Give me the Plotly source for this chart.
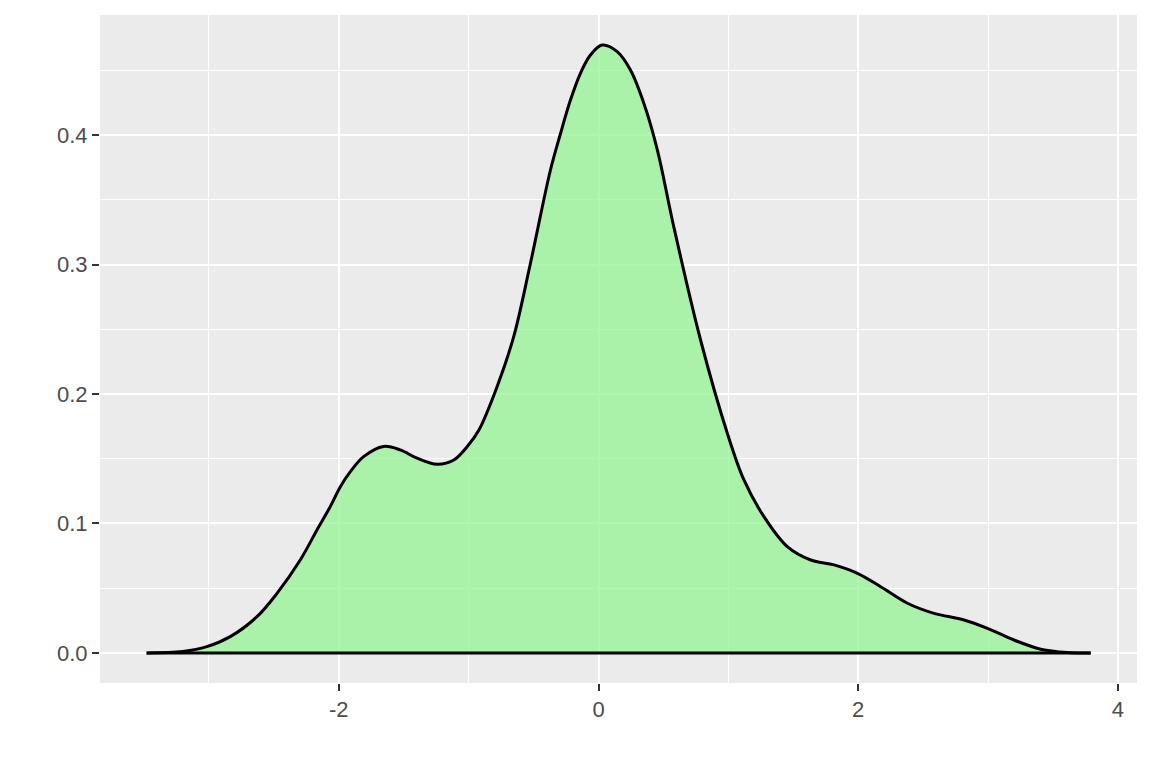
import plotly.graph_objects as go

# density curve
dens_x = [-3.48, -3.2, -3.016, -2.836, -2.63, -2.476, -2.297, -2.168, -2.066, -1.988,
          -1.911, -1.809, -1.655, -1.526, -1.397, -1.243, -1.115, -1.012, -0.922, -0.781,
          -0.653, -0.524, -0.37, -0.293, -0.216, -0.139, -0.062, 0.028, 0.144, 0.247,
          0.349, 0.452, 0.58, 0.786, 0.992, 1.12, 1.274, 1.454, 1.634, 1.814,
          1.994, 2.173, 2.379, 2.584, 2.815, 2.996, 3.2, 3.406, 3.612, 3.79]
dens_y = [0.0, 0.0012, 0.0049, 0.0126, 0.028, 0.046, 0.0718, 0.095, 0.113, 0.1284,
          0.14, 0.1516, 0.1595, 0.1568, 0.1504, 0.1457, 0.149, 0.1593, 0.172, 0.2057,
          0.2443, 0.301, 0.373, 0.401, 0.427, 0.4477, 0.4618, 0.4695, 0.4644, 0.450,
          0.4245, 0.389, 0.329, 0.2417, 0.1697, 0.1336, 0.1053, 0.0821, 0.0718, 0.068,
          0.0615, 0.0512, 0.0384, 0.0306, 0.0255, 0.019, 0.01, 0.0029, 0.0003, 0.0]

x_ticks = [-2, 0, 2, 4]
y_ticks = [0.0, 0.1, 0.2, 0.3, 0.4]
y_labels = ["0.0", "0.1", "0.2", "0.3", "0.4"]

fig = go.Figure()
fig.add_trace(go.Scatter(
    x=dens_x,
    y=dens_y,
    mode="lines",
    fill="tozeroy",
    fillcolor="rgba(150,245,150,0.76)",
    line=dict(color="black", width=3, shape="spline", smoothing=1.0),
    hoverinfo="skip",
))
# outline along the bottom, as geom_density draws it
fig.add_trace(go.Scatter(
    x=[dens_x[0], dens_x[-1]],
    y=[dens_y[0], dens_y[-1]],
    mode="lines",
    line=dict(color="black", width=3),
    hoverinfo="skip",
))

tick_font = dict(family="Liberation Sans, Arial, sans-serif", size=22, color="#4D4D4D")

fig.update_xaxes(
    range=[-3.839, 4.147],
    tickvals=x_ticks,
    ticktext=[str(v) for v in x_ticks],
    tickfont=tick_font,
    showline=False, zeroline=False,
    gridcolor="white", gridwidth=2.4,
    ticks="outside", ticklen=7, tickwidth=2.4, tickcolor="#333333",
    minor=dict(showgrid=True, gridcolor="white", gridwidth=1.2, dtick=1, tick0=0),
)
fig.update_yaxes(
    range=[-0.0232, 0.4927],
    tickvals=y_ticks,
    ticktext=y_labels,
    tickfont=tick_font,
    showline=False, zeroline=False,
    gridcolor="white", gridwidth=2.4,
    ticks="outside", ticklen=7, tickwidth=2.4, tickcolor="#333333",
    minor=dict(showgrid=True, gridcolor="white", gridwidth=1.2, dtick=0.05, tick0=0),
)

# the page puts the plot 8px in from the top left corner
fig.update_layout(
    width=1144, height=760,
    paper_bgcolor="white",
    plot_bgcolor="#EBEBEB",
    showlegend=False,
    margin=dict(l=92, r=15, t=7, b=85),
)

fig.write_html("out.html")
